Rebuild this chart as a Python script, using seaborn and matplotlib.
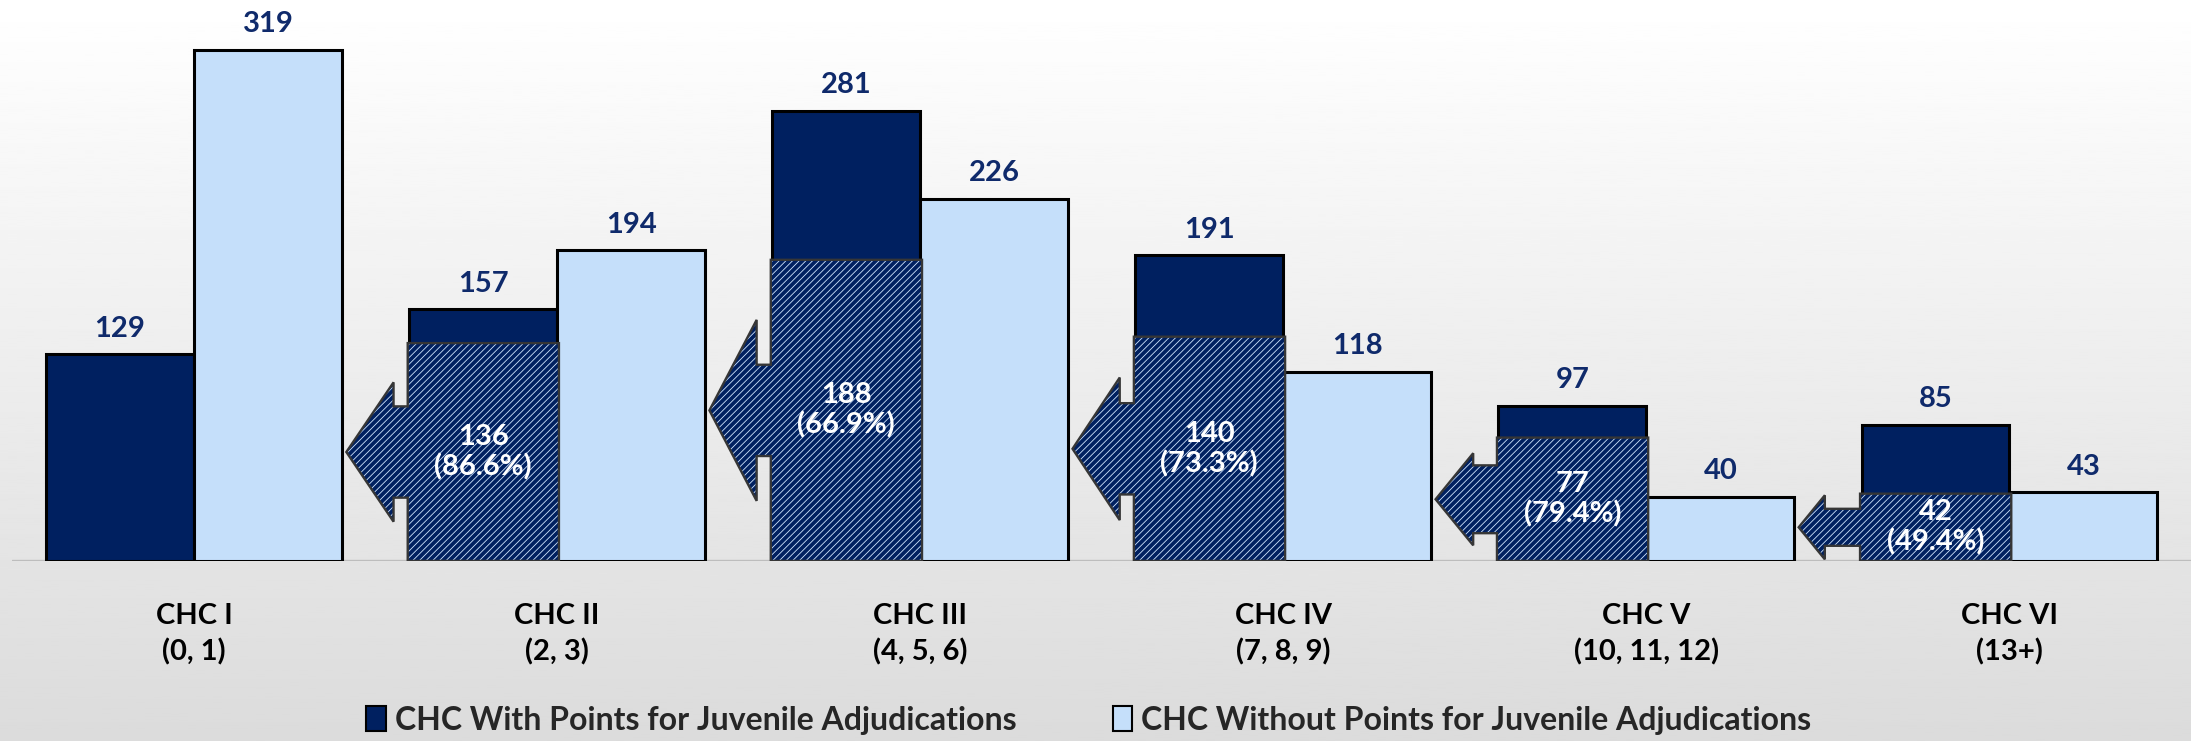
import matplotlib
matplotlib.use("Agg")
import matplotlib.pyplot as plt
from matplotlib.patches import Polygon, Patch
import numpy as np
import pandas as pd
import seaborn as sns

# data
groups = ["CHC I\n(0, 1)", "CHC II\n(2, 3)", "CHC III\n(4, 5, 6)",
          "CHC IV\n(7, 8, 9)", "CHC V\n(10, 11, 12)", "CHC VI\n(13+)"]
with_points = [129, 157, 281, 191, 97, 85]
without_points = [319, 194, 226, 118, 40, 43]
# offenders who would drop to the previous category without juvenile points
shifted = [0, 136, 188, 140, 77, 42]
series_names = ["CHC With Points for Juvenile Adjudications",
                "CHC Without Points for Juvenile Adjudications"]

DARK = "#002060"
LIGHT = "#c5dffa"
LABEL_BLUE = "#0f2a6b"
HATCH_COL = "#cfe4fb"

sns.set_style("white")
plt.rcParams["font.family"] = ["Lato", "DejaVu Sans"]
plt.rcParams["hatch.linewidth"] = 0.6

df = pd.DataFrame({
    "group": groups * 2,
    "count": with_points + without_points,
    "series": [series_names[0]] * len(groups) + [series_names[1]] * len(groups),
})

fig = plt.figure(figsize=(21.91, 7.41), dpi=100)

# background gradient
bg = fig.add_axes([0, 0, 1, 1], zorder=0)
grad = np.linspace(1.0, 0.86, 256).reshape(-1, 1)
bg.imshow(grad, aspect="auto", cmap="gray", vmin=0, vmax=1, extent=(0, 1, 0, 1))
bg.set_axis_off()

ax = fig.add_axes([0.0057, 0.243, 0.9943, 0.757], zorder=1)
ax.set_facecolor("none")

bar_w = 0.815
sns.barplot(data=df, x="group", y="count", hue="series", palette=[DARK, LIGHT],
            width=bar_w, saturation=1, edgecolor="black", linewidth=2.2,
            legend=False, ax=ax)

ax.set_xlim(-0.5, len(groups) - 0.5)
ax.set_ylim(0, 350.2)
ax.axhline(0, color="#bdbdbd", lw=2.4, zorder=0.5)

for cont in ax.containers:
    ax.bar_label(cont, padding=9, color=LABEL_BLUE, fontsize=21, fontweight="bold")

# hatched block + arrow pointing to the lower category
half = bar_w / 2
for i, h in enumerate(shifted):
    if h <= 0:
        continue
    cy = h / 2
    head = min(19 + 0.5 * h, h)
    shaft = min(0.55 * h, 57)
    head_len = min(0.0018 * head, 0.13)
    rx0, rx1 = i - half - 0.004, i + 0.005
    tip = i - 1 + half + 0.012
    back = tip + head_len
    pts = [(rx1, 0), (rx1, h), (rx0, h), (rx0, cy + shaft / 2),
           (back, cy + shaft / 2), (back, cy + head / 2), (tip, cy),
           (back, cy - head / 2), (back, cy - shaft / 2), (rx0, cy - shaft / 2),
           (rx0, 0)]
    ax.add_patch(Polygon(pts, closed=True, facecolor=DARK, edgecolor=HATCH_COL,
                         hatch="/////", linewidth=0, zorder=3))
    ax.add_patch(Polygon(pts, closed=True, fill=False, edgecolor="#363636",
                         linewidth=1.7, zorder=3.1))
    pct = h / with_points[i] * 100
    ax.text(i - half / 2, cy, f"{h}\n({pct:.1f}%)", ha="center", va="center",
            color="white", fontsize=21, fontweight="bold", linespacing=1.15,
            zorder=4)

ax.set_xlabel("")
ax.set_ylabel("")
ax.set_yticks([])
ax.tick_params(axis="x", length=0, pad=30)
for lab in ax.get_xticklabels():
    lab.set_fontsize(21)
    lab.set_fontweight("bold")
    lab.set_linespacing(1.45)
    lab.set_color("black")
sns.despine(ax=ax, left=True, bottom=True)

handles = [Patch(facecolor=DARK, edgecolor="black", linewidth=1.5),
           Patch(facecolor=LIGHT, edgecolor="black", linewidth=1.5)]
fig.legend(handles, series_names, ncol=2, frameon=False, loc="center",
           bbox_to_anchor=(0.497, 0.028),
           prop={"family": ["Lato", "DejaVu Sans"], "weight": "bold", "size": 23},
           handlelength=0.6, handleheight=0.85, handletextpad=0.3,
           columnspacing=3.0)

fig.savefig("out.png", dpi=100)
